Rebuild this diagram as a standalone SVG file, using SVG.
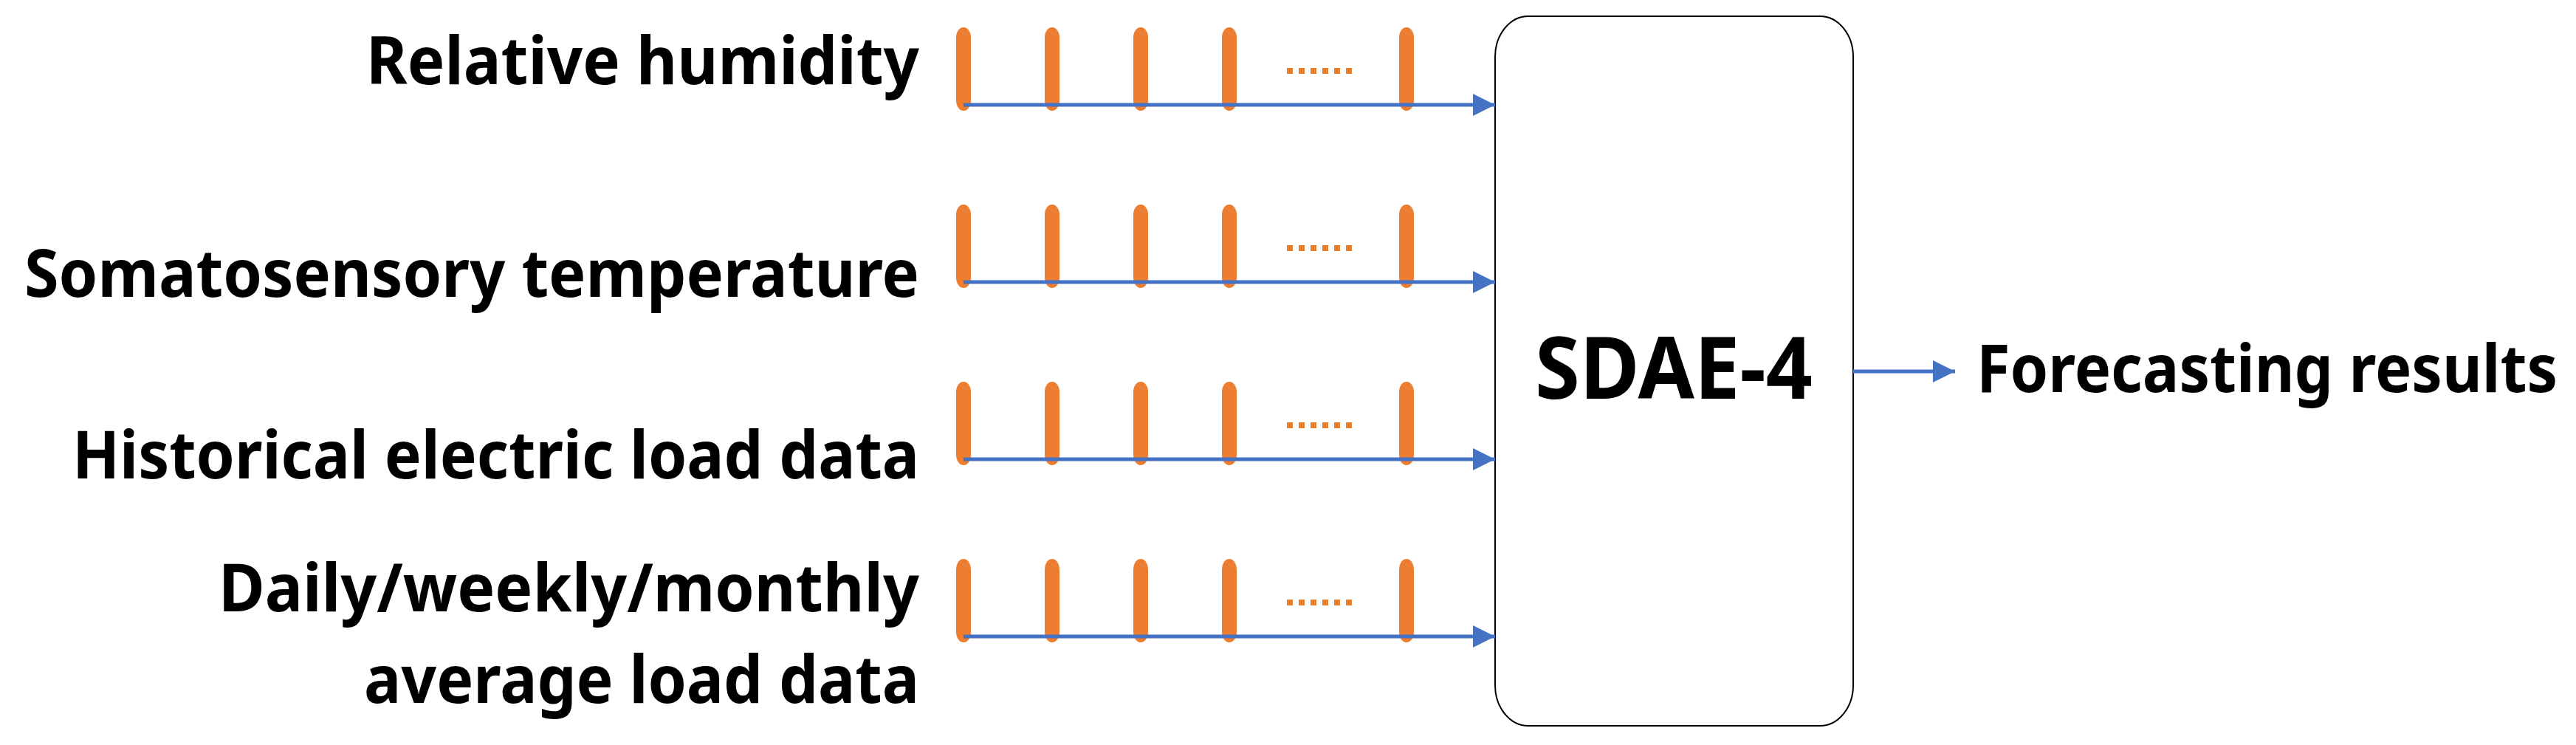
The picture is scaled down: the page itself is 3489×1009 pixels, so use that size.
<svg xmlns="http://www.w3.org/2000/svg" width="3489" height="1009" viewBox="0 0 3489 1009">
<style>
.lbl{font-family:"Noto Sans","Open Sans",sans-serif;font-weight:bold;fill:#000;text-anchor:end}
.bar{fill:#ED7D31}
.dots{stroke:#ED7D31;stroke-width:8;stroke-dasharray:8,8;fill:none}
.ln{stroke:#4472C4;stroke-width:5;fill:none}
</style>
<defs>
<marker id="ah" markerUnits="userSpaceOnUse" markerWidth="30" markerHeight="30" refX="30" refY="15" orient="auto"><path d="M0,0 L30,15 L0,30 Z" fill="#4472C4"/></marker>
<g id="bars">
<rect class="bar" x="1295" y="0" width="20" height="113" rx="10" ry="14"/>
<rect class="bar" x="1415" y="0" width="20" height="113" rx="10" ry="14"/>
<rect class="bar" x="1535" y="0" width="20" height="113" rx="10" ry="14"/>
<rect class="bar" x="1655" y="0" width="20" height="113" rx="10" ry="14"/>
<rect class="bar" x="1895" y="0" width="20" height="113" rx="10" ry="14"/>
<line class="dots" x1="1743" y1="59" x2="1839" y2="59"/>
</g>
</defs>
<g id="labels">
<text class="lbl" x="1245" y="114" font-size="90" textLength="749" lengthAdjust="spacingAndGlyphs">Relative humidity</text>
<text class="lbl" x="1245" y="402" font-size="90" textLength="1212" lengthAdjust="spacingAndGlyphs">Somatosensory temperature</text>
<text class="lbl" x="1245" y="648" font-size="90" textLength="1147" lengthAdjust="spacingAndGlyphs">Historical electric load data</text>
<text class="lbl" x="1245" y="828" font-size="90" textLength="949" lengthAdjust="spacingAndGlyphs">Daily/weekly/monthly</text>
<text class="lbl" x="1245" y="952" font-size="90" textLength="752" lengthAdjust="spacingAndGlyphs">average load data</text>
</g>
<g id="input1"><use href="#bars" y="37"/></g>
<g id="input2"><use href="#bars" y="277"/></g>
<g id="input3"><use href="#bars" y="517"/></g>
<g id="input4"><use href="#bars" y="757"/></g>
<g id="sdae">
<rect x="2025" y="22" width="485" height="961" rx="45" ry="55" fill="#fff" stroke="#000" stroke-width="2"/>
<text x="2267" y="540" font-family="Noto Sans,Open Sans,sans-serif" font-weight="bold" font-size="116" text-anchor="middle" textLength="376" lengthAdjust="spacingAndGlyphs">SDAE-4</text>
</g>
<g id="output">
<text x="3464" y="531" font-family="Noto Sans,Open Sans,sans-serif" font-weight="bold" font-size="90" text-anchor="end" textLength="787" lengthAdjust="spacingAndGlyphs">Forecasting results</text>
</g>
<g id="connectors">
<line class="ln" x1="1305" y1="142" x2="2025" y2="142" marker-end="url(#ah)"/>
<line class="ln" x1="1305" y1="382" x2="2025" y2="382" marker-end="url(#ah)"/>
<line class="ln" x1="1305" y1="622" x2="2025" y2="622" marker-end="url(#ah)"/>
<line class="ln" x1="1305" y1="862" x2="2025" y2="862" marker-end="url(#ah)"/>
<line class="ln" x1="2510" y1="503" x2="2648" y2="503" stroke-width="4" marker-end="url(#ah)"/>
</g>
</svg>
